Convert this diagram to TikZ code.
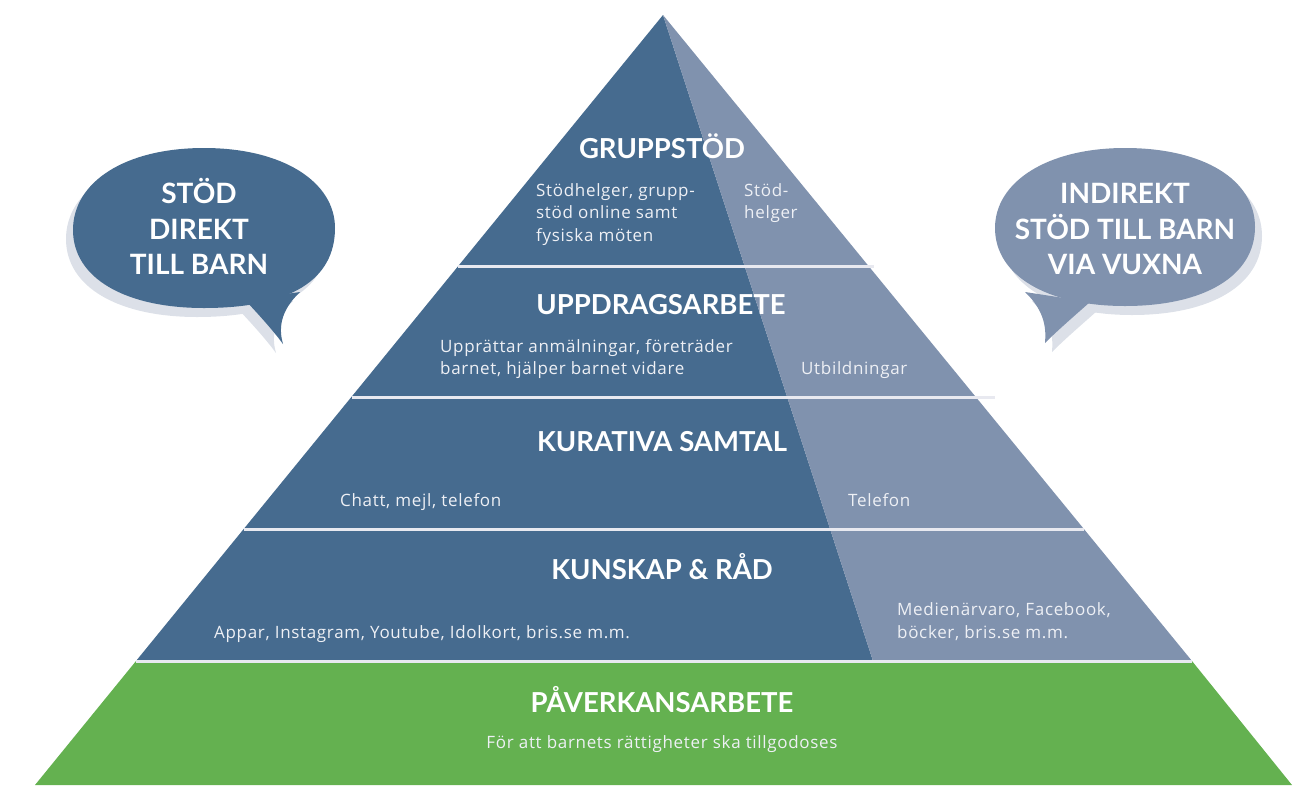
\documentclass[tikz,border=0pt]{standalone}
\usepackage{fontspec}
\setmainfont{Lato}
\newfontfamily\bodyfont[LetterSpace=4]{Open Sans}
\definecolor{dkb}{HTML}{466B8F}
\definecolor{ltb}{HTML}{8092AE}
\definecolor{grn}{HTML}{64B150}
\definecolor{sepc}{HTML}{E8E9F0}
\definecolor{shd}{HTML}{DCE0E8}
\definecolor{btxt}{HTML}{EEF0F5}
\tikzset{
  head/.style={text=white, font=\fontsize{27.5}{30}\selectfont\bfseries, anchor=base, inner sep=0pt},
  bodyl/.style={text=btxt, font=\bodyfont\fontsize{17}{22}\selectfont, anchor=base west, inner sep=0pt},
  bodyc/.style={text=btxt, font=\bodyfont\fontsize{17}{22}\selectfont, anchor=base, inner sep=0pt},
  bub/.style={text=white, font=\fontsize{28}{34}\selectfont\bfseries, anchor=base, inner sep=0pt},
  sepline/.style={draw=sepc, line width=3pt},
}
\begin{document}
\begin{tikzpicture}[x=1pt,y=-1pt]
\useasboundingbox (0,0) rectangle (1312,785);
% pyramid
\coordinate (apex) at (663,15);
\coordinate (bl) at (136,661);
\coordinate (bs) at (873,661);
\coordinate (br) at (1192,661);
\coordinate (gl) at (35,785);
\coordinate (gr) at (1292,785);
\fill[dkb] (apex) -- (bl) -- (bs) -- cycle;
\fill[ltb] (apex) -- (bs) -- (br) -- cycle;
\fill[grn] (bl) -- (br) -- (gr) -- (gl) -- cycle;
% separators
\draw[sepline] (458,266) -- (874,266);
\draw[sepline] (352,397) -- (995,397);
\draw[sepline] (244,529) -- (1084,529);
\draw[sepline] (136,661) -- (1192,661);
% left bubble shadow + body
\begin{scope}[shift={(-7,9)}]
\fill[shd] (245,300) .. controls (262,318) and (275,333) .. (283,344) .. controls (279,330) and (279,312) .. (300,292) -- cycle;
\fill[shd] (73,230) .. controls (73,182) and (125,148) .. (204,148) .. controls (283,148) and (335,182) .. (335,228) .. controls (335,280) and (290,308) .. (204,308) .. controls (125,308) and (73,278) .. (73,230) -- cycle;
\end{scope}
\fill[dkb] (245,300) .. controls (262,318) and (275,333) .. (283,344) .. controls (279,330) and (279,312) .. (300,292) -- cycle;
\fill[dkb] (73,230) .. controls (73,182) and (125,148) .. (204,148) .. controls (283,148) and (335,182) .. (335,228) .. controls (335,280) and (290,308) .. (204,308) .. controls (125,308) and (73,278) .. (73,230) -- cycle;
% right bubble shadow + body
\begin{scope}[shift={(7,9)}]
\fill[shd] (1025,292) .. controls (1046,312) and (1046,330) .. (1045,343) .. controls (1058,330) and (1072,318) .. (1090,302) -- cycle;
\fill[shd] (995,228) .. controls (995,182) and (1047,148) .. (1125,148) .. controls (1204,148) and (1255,180) .. (1255,227) .. controls (1255,276) and (1204,306) .. (1125,306) .. controls (1046,306) and (995,275) .. (995,228) -- cycle;
\end{scope}
\fill[ltb] (1025,292) .. controls (1046,312) and (1046,330) .. (1045,343) .. controls (1058,330) and (1072,318) .. (1090,302) -- cycle;
\fill[ltb] (995,228) .. controls (995,182) and (1047,148) .. (1125,148) .. controls (1204,148) and (1255,180) .. (1255,227) .. controls (1255,276) and (1204,306) .. (1125,306) .. controls (1046,306) and (995,275) .. (995,228) -- cycle;
% bubble texts
\node[bub] (lb1) at (199,203) {STÖD};
\node[bub] (lb2) at (199,239) {DIREKT};
\node[bub] (lb3) at (199,274) {TILL BARN};
\node[bub] (rb1) at (1125,203) {INDIREKT};
\node[bub] (rb2) at (1125,239) {STÖD TILL BARN};
\node[bub] (rb3) at (1125,274) {VIA VUXNA};
% level 1
\node[head] (h1) at (662,158) {GRUPPSTÖD};
\node[bodyl] (t1a) at (536,196) {Stödhelger, grupp-};
\node[bodyl] (t1b) at (536,218.5) {stöd online samt};
\node[bodyl] (t1c) at (536,241) {fysiska möten};
\node[bodyl] (t1d) at (744,196) {Stöd-};
\node[bodyl] (t1e) at (744,218.5) {helger};
% level 2
\node[head] (h2) at (661,314) {UPPDRAGSARBETE};
\node[bodyl] (t2a) at (440,352) {Upprättar anmälningar, företräder};
\node[bodyl] (t2b) at (440,374.5) {barnet, hjälper barnet vidare};
\node[bodyl] (t2c) at (801,374.5) {Utbildningar};
% level 3
\node[head] (h3) at (662,451) {KURATIVA SAMTAL};
\node[bodyl] (t3a) at (340,506) {Chatt, mejl, telefon};
\node[bodyl] (t3b) at (848,506) {Telefon};
% level 4
\node[head] (h4) at (662,579) {KUNSKAP \& RÅD};
\node[bodyl] (t4a) at (214,638) {Appar, Instagram, Youtube, Idolkort, bris.se m.m.};
\node[bodyl] (t4b) at (897,615.5) {Medienärvaro, Facebook,};
\node[bodyl] (t4c) at (897,638) {böcker, bris.se m.m.};
% base
\node[head] (h5) at (662,712) {PÅVERKANSARBETE};
\node[bodyc] (t5) at (662,748) {För att barnets rättigheter ska tillgodoses};
\end{tikzpicture}
\end{document}
